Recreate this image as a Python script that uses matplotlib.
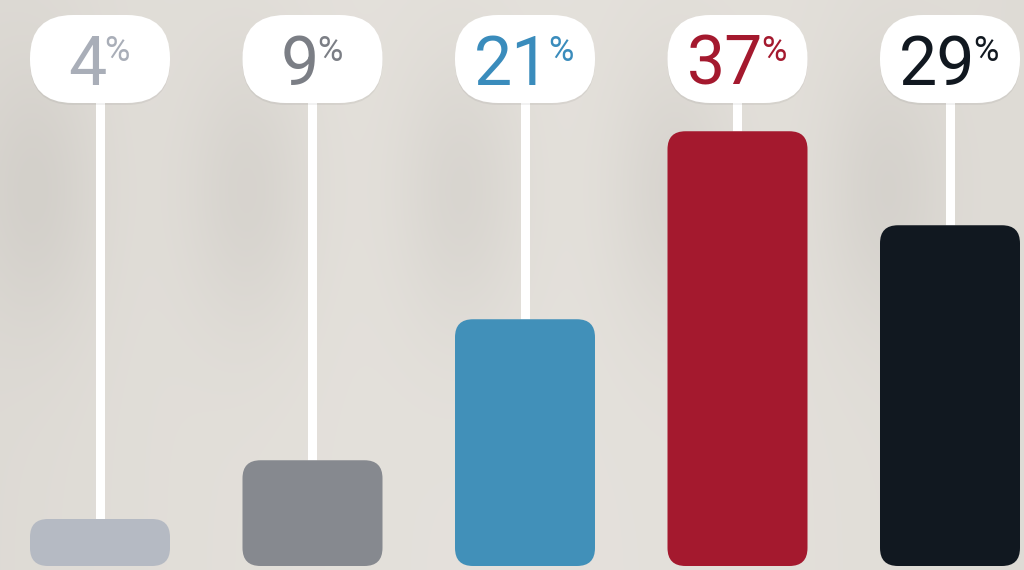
import numpy as np
import matplotlib.pyplot as plt
from matplotlib.patches import FancyBboxPatch
from matplotlib.transforms import ScaledTranslation

# Données
categories = ["A", "B", "C", "D", "E"]
valeurs = [4, 9, 21, 37, 29]
couleurs_barres = ["#b5bac3", "#86898f", "#4190b9", "#a4192e", "#111820"]
couleurs_texte = ["#a9aeb8", "#7b7e85", "#3a8cbc", "#a4192e", "#111820"]

W, H = 1024, 570
px_x = 1 / 212.5     # unités x par pixel
px_y = 1 / 11.75     # unités y par pixel

fig = plt.figure(figsize=(W / 100, H / 100), dpi=100)
ax = fig.add_axes([0, 0, 1, 1])
x0, x1 = -100 * px_x, 4 + 74 * px_x
y0, y1 = -4 * px_y, 566 * px_y
ax.set_xlim(x0, x1)
ax.set_ylim(y0, y1)
ax.axis("off")


def y_pixel(py):
    # pixel depuis le haut -> unité de valeur
    return (566 - py) * px_y


# Fond beige avec ombres douces
gx, gy = np.meshgrid(np.linspace(x0, x1, 512), np.linspace(y1, y0, 285))
base = np.array([0.895, 0.882, 0.860])
ombre = 0.025 * (np.abs(gx - 2) / 2.5) ** 2
for i in range(len(valeurs)):
    ombre += 0.045 * np.exp(-((gx - i + 0.3) / 0.3) ** 2 - ((gy - 32) / 12) ** 2)
fond = np.clip(base[None, None, :] - ombre[..., None], 0, 1)
ax.imshow(fond, extent=[x0, x1, y0, y1], aspect="auto", zorder=0, interpolation="bicubic")

largeur = 140 * px_x
aspect = px_y / px_x
pastille_bas = y_pixel(103)
pastille_h = (103 - 15) * px_y
r_pastille = 43 * px_x

renderer = fig.canvas.get_renderer()
decalage = ScaledTranslation(0, -2 / 100, fig.dpi_scale_trans)

for i, (v, cb, ct) in enumerate(zip(valeurs, couleurs_barres, couleurs_texte)):
    # Tige blanche entre la pastille et la barre
    ax.plot([i, i], [v, pastille_bas + 1], color="white", lw=6.5,
            solid_capstyle="butt", zorder=2)

    # Barre arrondie
    ax.add_patch(FancyBboxPatch((i - largeur / 2, 0), largeur, v,
                                boxstyle="round,pad=0,rounding_size=%f" % (18 * px_x),
                                mutation_aspect=aspect, fc=cb, ec="none", zorder=3))

    # Pastille blanche avec une ombre légère
    ax.add_patch(FancyBboxPatch((i - largeur / 2, pastille_bas), largeur, pastille_h,
                                boxstyle="round,pad=0,rounding_size=%f" % r_pastille,
                                mutation_aspect=aspect, fc="black", ec="none",
                                alpha=0.05, zorder=3, transform=ax.transData + decalage))
    ax.add_patch(FancyBboxPatch((i - largeur / 2, pastille_bas), largeur, pastille_h,
                                boxstyle="round,pad=0,rounding_size=%f" % r_pastille,
                                mutation_aspect=aspect, fc="white", ec="none", zorder=4))

    # Valeur et signe %, centrés ensemble dans la pastille
    pct = ax.text(i, y_pixel(61), "%", ha="left", va="baseline", fontsize=25,
                  family="Roboto", color=ct, zorder=5)
    w_pct = pct.get_window_extent(renderer).width
    nombre = ax.text(i - (w_pct / 2) * px_x, y_pixel(85), str(v), ha="center",
                     va="baseline", fontsize=49, family="Roboto", color=ct, zorder=5)
    droite = nombre.get_window_extent(renderer).x1
    pct.set_x(ax.transData.inverted().transform((droite - 2, 0))[0])

fig.savefig("out.png", dpi=100)
